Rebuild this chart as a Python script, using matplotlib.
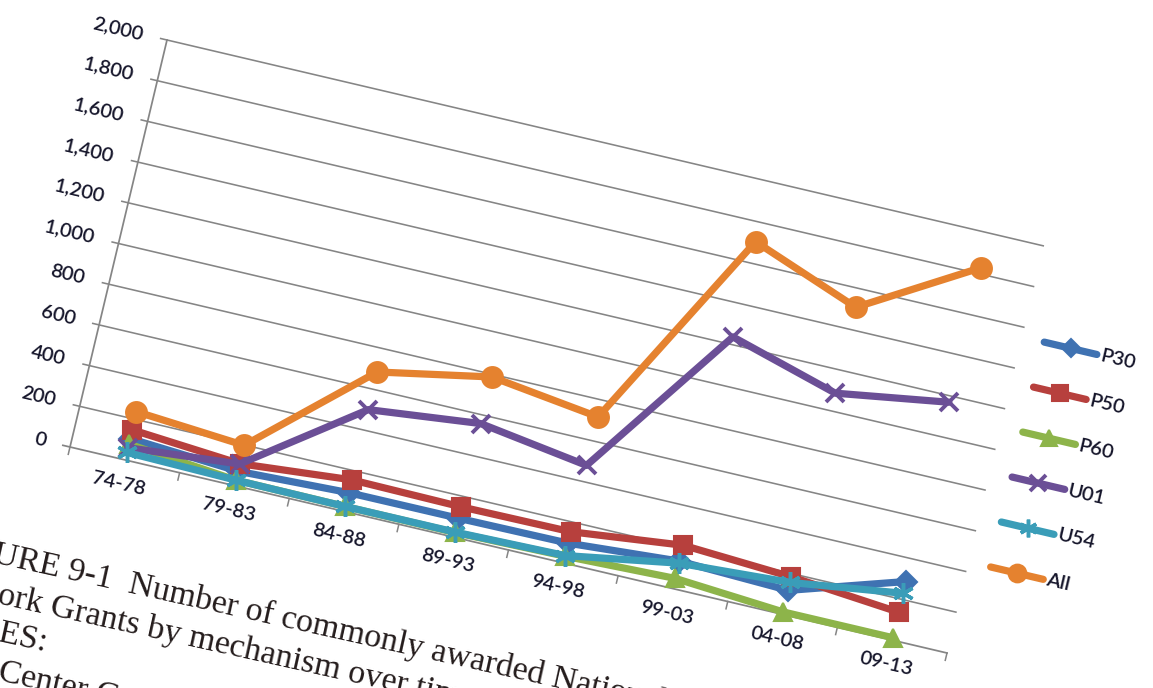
import numpy as np
import matplotlib
matplotlib.use("Agg")
import matplotlib.pyplot as plt
from matplotlib.transforms import Affine2D

# Grants awarded per five-year period, by mechanism
categories = ["74-78", "79-83", "84-88", "89-93", "94-98", "99-03", "04-08", "09-13"]
p30 = [105, 71, 92, 93, 97, 135, 118, 288]
p50 = [148, 108, 155, 149, 153, 213, 184, 137]
p60 = [78, 27, 24, 23, 33, 50, 12, 12]
u01 = [60, 106, 500, 558, 479, 1237, 1087, 1169]
u54 = [37, 27, 24, 25, 36, 125, 157, 230]
all_grants = [237, 198, 685, 787, 717, 1705, 1509, 1830]

series_names = ["P30", "P50", "P60", "U01", "U54", "All"]
y_ticks = [0, 200, 400, 600, 800, 1000, 1200, 1400, 1600, 1800, 2000]
y_tick_labels = ["0", "200", "400", "600", "800", "1,000", "1,200",
                 "1,400", "1,600", "1,800", "2,000"]

W, H = 1153, 688
fig = plt.figure(figsize=(W / 100, H / 100), dpi=100)
fig.patch.set_facecolor("white")
page = fig.add_axes([0, 0, 1, 1])
page.set_xlim(0, W)
page.set_ylim(H, 0)
page.axis("off")

# The printed page is seen at an angle: map (category units, count) onto it
n = len(categories)
ymax = 2000.0
origin = (70.0, 447.0)
ex = (877.0, 206.0)
ey = (97.0, -407.0)
skew = Affine2D(np.array([[ex[0] / n, ey[0] / ymax, origin[0]],
                          [ex[1] / n, ey[1] / ymax, origin[1]],
                          [0.0, 0.0, 1.0]]))
chart = skew + page.transData
ROT = -13.2

grid_c = "#858585"
text_c = "#15152a"
tick_font = dict(family="Lato", fontsize=14.5, fontweight="semibold",
                 color=text_c)

# gridlines with their left tick marks
for v in y_ticks[1:]:
    page.plot([-0.065, n], [v, v], transform=chart, color=grid_c, lw=1.15,
              zorder=1, solid_capstyle="butt")
# axes lines
page.plot([-0.065, n], [0, 0], transform=chart, color=grid_c, lw=1.25, zorder=1)
page.plot([0, 0], [0, ymax], transform=chart, color=grid_c, lw=1.25, zorder=1)
for b in range(n + 1):
    page.plot([b, b], [0, -36], transform=chart, color=grid_c, lw=1.1, zorder=1)

# value labels
for v, lab in zip(y_ticks, y_tick_labels):
    page.text(-0.22, v, lab, transform=chart, rotation=ROT,
              rotation_mode="anchor", ha="right", va="center", **tick_font)

# category labels
xs = np.arange(n) + 0.5
for xc, lab in zip(xs, categories):
    page.text(xc, -118, lab, transform=chart, rotation=ROT,
              rotation_mode="anchor", ha="center", va="center", **tick_font)

asterisk = (6, 2, 0)
styles = {
    "P30": dict(color="#3f72b2", marker="D", ms=11, mew=1.5),
    "P50": dict(color="#b7403d", marker="s", ms=13, mew=1.5),
    "P60": dict(color="#8db44a", marker="^", ms=13, mew=1.5),
    "U01": dict(color="#6b4f96", marker="x", ms=13, mew=2.8),
    "U54": dict(color="#3a9db8", marker=asterisk, ms=15, mew=2.5),
    "All": dict(color="#e5822f", marker="o", ms=15, mew=1.5),
}
values = {"P30": p30, "P50": p50, "P60": p60, "U01": u01, "U54": u54,
          "All": all_grants}

for z, name in enumerate(series_names):
    st = styles[name]
    page.plot(xs, values[name], transform=chart, color=st["color"], lw=5.2,
              marker=st["marker"], ms=st["ms"], mew=st["mew"],
              mfc=st["color"], mec=st["color"], solid_joinstyle="round",
              solid_capstyle="round", zorder=3 + z)

# legend, laid out in the same tilted frame
leg_top, leg_step = 1553, 221
for k, name in enumerate(series_names):
    st = styles[name]
    yl = leg_top - leg_step * k
    page.plot([8.2, 8.68], [yl, yl], transform=chart, color=st["color"],
              lw=5.2, solid_capstyle="round", zorder=3)
    page.plot([8.44], [yl], transform=chart, color=st["color"],
              marker=st["marker"], ms=st["ms"] * 0.85, mew=st["mew"],
              mfc=st["color"], mec=st["color"], zorder=4)
    page.text(8.71, yl, name, transform=chart, rotation=ROT,
              rotation_mode="anchor", ha="left", va="center", **tick_font)

# caption printed below the figure on the page
cap_font = dict(family="Liberation Serif", fontsize=24.5, color="#241c1c",
                rotation=-12.5, rotation_mode="anchor", ha="left",
                va="baseline")
page.text(-8, 562, "URE 9-1  Number of commonly awarded National", **cap_font)
page.text(-3, 603, "ork Grants by mechanism over time", **cap_font)
page.text(-3, 641, "ES:", **cap_font)
page.text(-3, 680, "Center C", **cap_font)

fig.savefig("out.png", dpi=100, facecolor="white")
